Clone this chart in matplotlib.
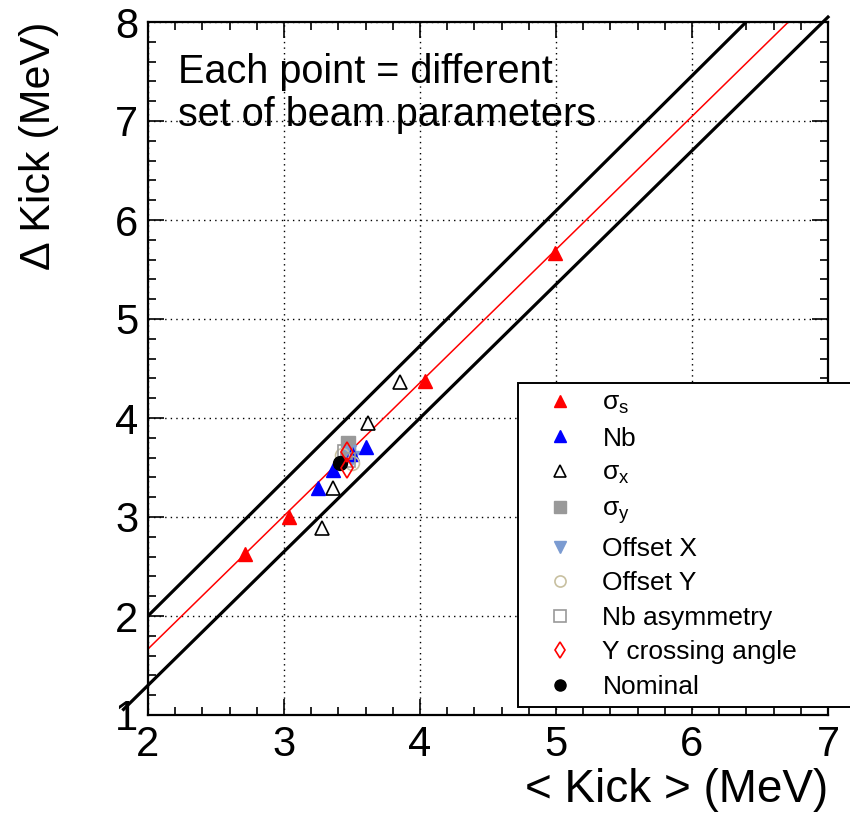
import numpy as np
import matplotlib.pyplot as plt
from matplotlib.ticker import MultipleLocator

plt.rcParams['font.family'] = ['Liberation Sans', 'DejaVu Sans']
plt.rcParams['mathtext.default'] = 'regular'

# <Kick> vs Delta Kick for each beam parameter scan (MeV)
sigs_x = [2.71, 3.04, 4.04, 4.99]
sigs_y = [2.63, 3.00, 4.37, 5.67]

nb_x = [3.25, 3.36, 3.50, 3.60]
nb_y = [3.29, 3.47, 3.64, 3.71]

sigx_x = [3.28, 3.36, 3.62, 3.85]
sigx_y = [2.89, 3.29, 3.95, 4.36]

sigy_x = [3.47, 3.47]
sigy_y = [3.75, 3.63]

offx_x = [3.50, 3.48]
offx_y = [3.60, 3.66]

offy_x = [3.43, 3.50]
offy_y = [3.63, 3.55]

nbasym_x = [3.45, 3.47]
nbasym_y = [3.66, 3.58]

ycross_x = [3.46, 3.46]
ycross_y = [3.66, 3.50]

nom_x = [3.41]
nom_y = [3.55]

# linear fit and the two envelope lines: y = slope * x + intercept
fit_line = (1.345, -1.023)
upper_line = (1.364, -0.727)
lower_line = (1.350, -1.400)

fig = plt.figure(figsize=(8.5, 8.15), dpi=100)
ax = fig.add_axes([148 / 850, 100 / 815, 680 / 850, 693 / 815])

def line_pts(coef, x0, x1):
    xs = np.array([x0, x1])
    return xs, coef[0] * xs + coef[1]

xs, ys = line_pts(fit_line, 2.0, (8 - fit_line[1]) / fit_line[0])
ax.plot(xs, ys, color='red', lw=1.1, zorder=2)
xs, ys = line_pts(upper_line, 2.0, (8 - upper_line[1]) / upper_line[0])
ax.plot(xs, ys, color='black', lw=2.3, zorder=2)
xs, ys = line_pts(lower_line, 1.82, 7.0)
ax.plot(xs, ys, color='black', lw=2.3, zorder=2, clip_on=False)

ms = 10
ax.plot(sigs_x, sigs_y, '^', color='red', ms=ms, ls='none', label='σ$_s$', zorder=3)
ax.plot(sigx_x, sigx_y, '^', mfc='white', mec='black', mew=1.2, ms=ms, ls='none',
        label='σ$_x$', zorder=3)
ax.plot(sigy_x, sigy_y, 's', color='#999999', ms=ms, ls='none', label='σ$_y$', zorder=3)
ax.plot(offx_x, offx_y, 'v', color='#7b9bd1', ms=ms, ls='none', label='Offset X', zorder=3)
ax.plot(nb_x, nb_y, '^', color='blue', ms=ms, ls='none', label='Nb', zorder=4)
ax.plot(offy_x, offy_y, 'o', mfc='none', mec='#c8c0a0', mew=1.2, ms=ms, ls='none',
        label='Offset Y', zorder=4)
ax.plot(nbasym_x, nbasym_y, 's', mfc='none', mec='#999999', mew=1.2, ms=ms, ls='none',
        label='Nb asymmetry', zorder=4)
ax.plot(nom_x, nom_y, 'o', color='black', ms=ms, ls='none', label='Nominal', zorder=5)
ax.plot(ycross_x, ycross_y, 'd', mfc='none', mec='red', mew=1.2, ms=ms, ls='none',
        label='Y crossing angle', zorder=6)

ax.set_xlim(2, 7)
ax.set_ylim(1, 8)
ax.xaxis.set_major_locator(MultipleLocator(1))
ax.xaxis.set_minor_locator(MultipleLocator(0.2))
ax.yaxis.set_major_locator(MultipleLocator(1))
ax.yaxis.set_minor_locator(MultipleLocator(0.2))
ax.tick_params(which='both', direction='in', top=True, right=True, width=1.2,
               labelsize=30)
ax.tick_params(which='major', length=11.5, pad=7)
ax.tick_params(which='minor', length=6)
ax.grid(True, which='major', color='black', ls=(0, (1, 3)), lw=1.0)
for sp in ax.spines.values():
    sp.set_linewidth(1.6)

ax.text(0.044, 0.955, 'Each point = different\nset of beam parameters',
        transform=ax.transAxes, fontsize=28.5, va='top', ha='left', linespacing=1.15)

fig.text(828 / 850, 3 / 815, '< Kick > (MeV)', ha='right', va='bottom', fontsize=33)
fig.text(0.046, 0.973, 'Δ Kick (MeV)', ha='center', va='top', rotation=90, fontsize=31)

order = ['σ$_s$', 'Nb', 'σ$_x$', 'σ$_y$', 'Offset X', 'Offset Y',
         'Nb asymmetry', 'Y crossing angle', 'Nominal']
handles, labels = ax.get_legend_handles_labels()
hmap = dict(zip(labels, handles))
leg = fig.legend([hmap[k] for k in order], order,
                 loc='upper left', bbox_to_anchor=(518 / 850, 1 - 383 / 815, 0.45, 0),
                 mode='expand', borderaxespad=0, fontsize=19, markerscale=0.8,
                 fancybox=False, framealpha=1, edgecolor='black',
                 handlelength=2.6, handletextpad=0.3, borderpad=0.3,
                 labelspacing=0.4)
leg.get_frame().set_linewidth(1.4)

fig.savefig('out.png', dpi=100)
